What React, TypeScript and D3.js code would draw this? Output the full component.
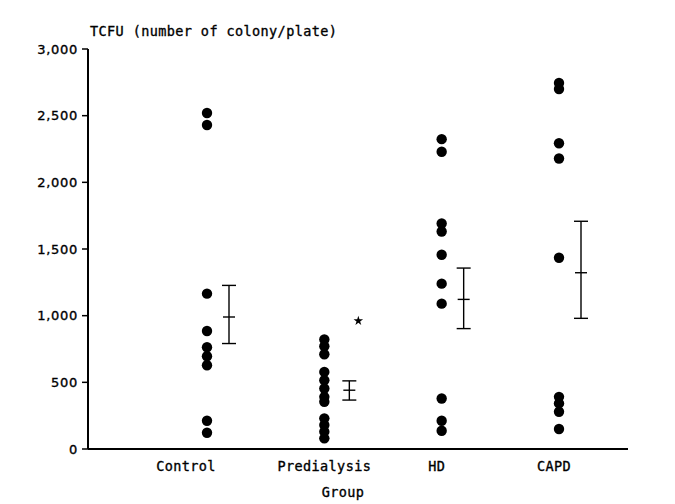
import React from 'react';
import * as d3 from 'd3';

// groups and colony counts
const groups = ['Control', 'Predialysis', 'HD', 'CAPD'];

const controlValues = [2520, 2430, 1165, 885, 763, 696, 628, 212, 122];
const predialysisValues = [821, 771, 711, 578, 516, 454, 391, 354, 230, 180, 130, 80];
const hdValues = [2324, 2229, 1691, 1631, 1457, 1240, 1090, 379, 212, 137];
const capdValues = [2745, 2700, 2293, 2179, 1434, 391, 342, 279, 150];

// mean with upper / lower bar ends
const means = [990, 441, 1122, 1322];
const upper = [1227, 511, 1357, 1708];
const lower = [791, 367, 903, 980];

const yTicks = [0, 500, 1000, 1500, 2000, 2500, 3000];
const significant = ['Predialysis'];

const W = 675;
const H = 504;
const monoFont = '"DejaVu Sans Mono", monospace';

export default function App() {
  const series = [controlValues, predialysisValues, hdValues, capdValues];

  const y = d3.scaleLinear().domain([0, 3000]).range([449, 49]);
  const x = d3.scalePoint<string>().domain(groups).range([207, 559]);
  const axisLeft = 88;
  const axisRight = 628;
  const barOffset = 22;
  const cap = 7;

  // labels sit on typewriter tab stops, a bit left of the dots
  const labelShift: Record<string, number> = { Control: -21, Predialysis: 0, HD: -5, CAPD: -5 };
  const fmt = d3.format(',');
  const star = d3.symbol().type(d3.symbolStar).size(28)();

  // printed text is a little heavier than the plain font
  const ink = { fill: '#000', stroke: '#000', strokeWidth: 0.35 };

  return (
    <svg width={W} height={H} style={{ position: 'fixed', left: 0, top: 0, background: '#fff' }}>
      {/* axes */}
      <line x1={axisLeft} x2={axisLeft} y1={y(3000)} y2={y(0)} stroke="#000" strokeWidth={2} />
      <line x1={axisLeft} x2={axisRight} y1={y(0)} y2={y(0)} stroke="#000" strokeWidth={2} />
      {yTicks.map(t => (
        <g key={t}>
          <line x1={axisLeft - 6} x2={axisLeft} y1={y(t)} y2={y(t)} stroke="#000" strokeWidth={1.5} />
          <text x={axisLeft - 10} y={y(t)} dy="0.35em" textAnchor="end"
            fontFamily='"DejaVu Sans", sans-serif' fontSize={13} letterSpacing={0.7} {...ink}>
            {fmt(t)}
          </text>
        </g>
      ))}

      <text x={90} y={36} fontFamily={monoFont} fontSize={13.5} letterSpacing={0.4} {...ink}>
        TCFU (number of colony/plate)
      </text>

      {groups.map(g => (
        <text key={g} x={(x(g) as number) + labelShift[g]} y={471} textAnchor="middle"
          fontFamily={monoFont} fontSize={13.5} letterSpacing={0.4} {...ink}>
          {g}
        </text>
      ))}
      <text x={343} y={497} textAnchor="middle" fontFamily={monoFont} fontSize={13.5} letterSpacing={0.4} {...ink}>
        Group
      </text>

      {/* dots */}
      {series.map((vals, i) =>
        vals.map((v, j) => (
          <circle key={`${i}-${j}`} cx={x(groups[i])} cy={y(v)} r={5.2} fill="#000" />
        ))
      )}

      {/* mean +/- error bars */}
      {groups.map((g, i) => {
        const bx = (x(g) as number) + barOffset + (g === 'Predialysis' ? 3 : 0);
        return (
          <g key={g} stroke="#000" strokeWidth={1.4}>
            <line x1={bx} x2={bx} y1={y(upper[i])} y2={y(lower[i])} />
            <line x1={bx - cap} x2={bx + cap} y1={y(upper[i])} y2={y(upper[i])} />
            <line x1={bx - cap} x2={bx + cap} y1={y(lower[i])} y2={y(lower[i])} />
            <line x1={bx - cap + 1} x2={bx + cap - 1} y1={y(means[i])} y2={y(means[i])} />
          </g>
        );
      })}

      {significant.map(g => {
        const i = groups.indexOf(g);
        return (
          <path key={g} d={star || ''} fill="#000"
            transform={`translate(${(x(g) as number) + 34},${y(upper[i]) - 60})`} />
        );
      })}
    </svg>
  );
}
